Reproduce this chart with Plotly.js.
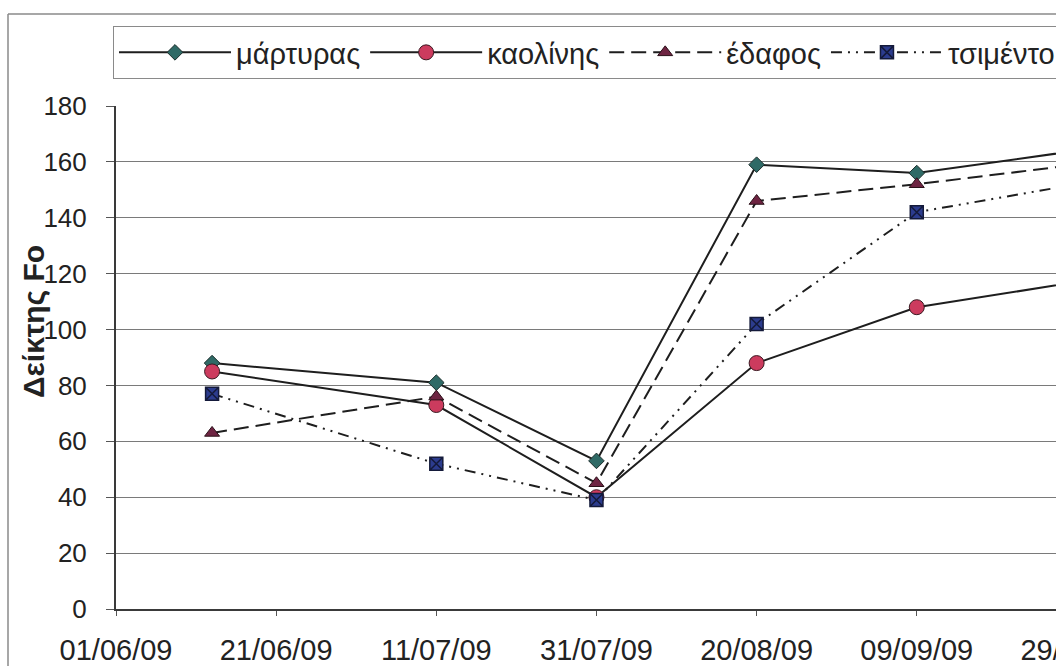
<!DOCTYPE html>
<html>
<head>
<meta charset="utf-8">
<script src="https://cdn.plot.ly/plotly-3.0.1.min.js"></script>
<style>
  html, body { margin: 0; padding: 0; background: #fff; overflow: hidden; }
  #chart { width: 1177px; height: 666px; }
</style>
</head>
<body>
<div id="chart"></div>
<script>
// Sampling dates and Fo index per treatment
const dates = ['2009-06-13', '2009-07-11', '2009-07-31', '2009-08-20', '2009-09-09', '2009-09-29'];
const martyras = [88, 81, 53, 159, 156, 164];
const kaolinis = [85, 73, 40, 88, 108, 117];
const edafos = [63, 76, 45, 146, 152, 159];
const tsimento = [77, 52, 39, 102, 142, 152];

const seriesNames = ['μάρτυρας', 'καολίνης', 'έδαφος', 'τσιμέντο'];
const yTitle = 'Δείκτης Fo';

const FONT = 'Liberation Sans, Arial, sans-serif';
const LINE = '#1e1e1e';

const traces = [
  {
    x: dates, y: martyras, name: seriesNames[0], type: 'scatter', mode: 'lines+markers',
    line: { color: LINE, width: 2 },
    marker: { symbol: 'diamond', size: 12, color: '#2f6a66', line: { color: '#1e2e2c', width: 1 } }
  },
  {
    x: dates, y: kaolinis, name: seriesNames[1], type: 'scatter', mode: 'lines+markers',
    line: { color: LINE, width: 2 },
    marker: { symbol: 'circle', size: 15, color: '#cc3b5e', line: { color: '#3a1a22', width: 1 } }
  },
  {
    x: dates, y: edafos, name: seriesNames[2], type: 'scatter', mode: 'lines+markers',
    line: { color: LINE, width: 2, dash: '15px,7px' },
    marker: { symbol: 'triangle-up', size: 13, color: '#6e2442', line: { color: '#2a1018', width: 1 } }
  },
  {
    x: dates, y: tsimento, name: seriesNames[3], type: 'scatter', mode: 'lines+markers',
    line: { color: LINE, width: 2, dash: '11px,6px,2px,6px,2px,6px' },
    marker: { symbol: 'square-x', size: 13, color: '#2c3c8e', line: { color: '#141a3a', width: 1.5 } }
  }
];

// plot area: left 116px, top 106px, 1041px wide, 503px tall
const L = 116, T = 106, PW = 1041, PH = 503;
const px2paperX = px => (px - L) / PW;
const px2paperY = py => (T + PH - py) / PH;

const layout = {
  width: 1177,
  height: 666,
  margin: { l: L, r: 1177 - L - PW, t: T, b: 666 - T - PH },
  paper_bgcolor: '#ffffff',
  plot_bgcolor: '#ffffff',
  font: { family: FONT, color: '#222222', size: 26 },
  showlegend: true,
  legend: {
    orientation: 'h',
    x: px2paperX(113), xanchor: 'left',
    y: px2paperY(26), yanchor: 'top',
    bgcolor: '#ffffff',
    bordercolor: '#8a8a8a',
    borderwidth: 1,
    font: { family: FONT, size: 29, color: '#222222' },
    itemwidth: 112,
    traceorder: 'normal'
  },
  xaxis: {
    type: 'date',
    range: ['2009-06-01', '2009-10-09'],
    tick0: '2009-06-01',
    dtick: 20 * 86400000,
    tickformat: '%d/%m/%y',
    ticks: 'outside',
    ticklen: 5,
    tickcolor: '#555555',
    tickwidth: 1,
    ticklabelstandoff: 9,
    showgrid: false,
    zeroline: false,
    showline: true,
    linecolor: '#3a3a3a',
    linewidth: 2,
    tickfont: { family: FONT, size: 29, color: '#222222' },
    fixedrange: true
  },
  yaxis: {
    range: [0, 180],
    tick0: 0,
    dtick: 20,
    ticks: 'outside',
    ticklen: 8,
    tickcolor: '#555555',
    tickwidth: 1,
    ticklabelstandoff: 14,
    showgrid: true,
    gridcolor: '#7a7a7a',
    gridwidth: 1,
    zeroline: false,
    showline: true,
    linecolor: '#3a3a3a',
    linewidth: 2,
    tickfont: { family: FONT, size: 26, color: '#222222' },
    fixedrange: true
  },
  annotations: [
    {
      text: '<b>' + yTitle + '</b>',
      xref: 'paper', yref: 'paper',
      x: px2paperX(33), y: px2paperY(322),
      xanchor: 'center', yanchor: 'middle',
      textangle: -90,
      showarrow: false,
      font: { family: FONT, size: 30, color: '#222222' }
    }
  ],
  shapes: [
    // chart area frame (top and left edges)
    { type: 'line', xref: 'paper', yref: 'paper',
      x0: px2paperX(8), x1: px2paperX(1177), y0: px2paperY(14), y1: px2paperY(14),
      line: { color: '#8a8a8a', width: 1.5 } },
    { type: 'line', xref: 'paper', yref: 'paper',
      x0: px2paperX(8), x1: px2paperX(8), y0: px2paperY(14), y1: px2paperY(666),
      line: { color: '#8a8a8a', width: 1.5 } }
  ]
};

Plotly.newPlot('chart', traces, layout, { displayModeBar: false, staticPlot: true });
</script>
</body>
</html>
